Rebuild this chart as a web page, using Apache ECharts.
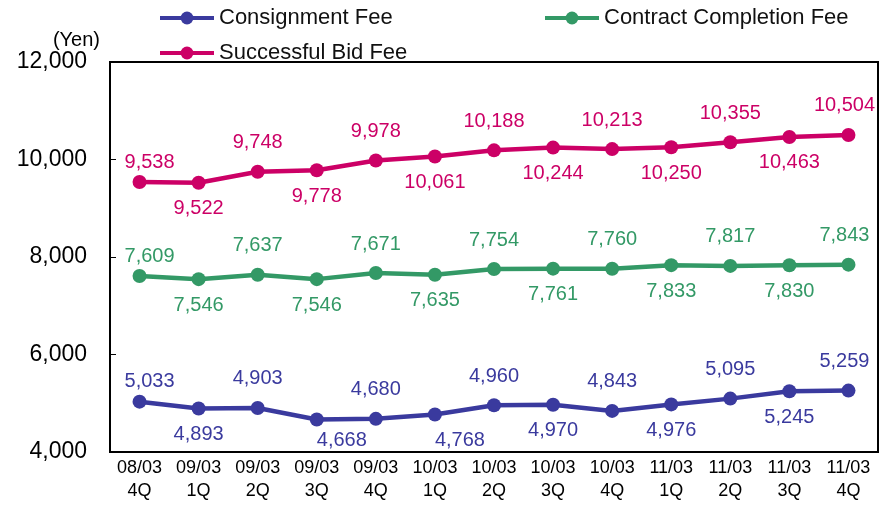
<!DOCTYPE html>
<html>
<head>
<meta charset="utf-8">
<script src="https://cdn.jsdelivr.net/npm/echarts@6/dist/echarts.min.js"></script>
<style>
  html, body { margin: 0; padding: 0; background: #fff; }
  #chart { width: 893px; height: 518px; }
</style>
</head>
<body>
<div id="chart"></div>
<script>
// Quarterly fees per vehicle (Yen)
const quarters = ['08/03\n4Q', '09/03\n1Q', '09/03\n2Q', '09/03\n3Q', '09/03\n4Q', '10/03\n1Q', '10/03\n2Q',
                  '10/03\n3Q', '10/03\n4Q', '11/03\n1Q', '11/03\n2Q', '11/03\n3Q', '11/03\n4Q'];
const consignmentFee = [5033, 4893, 4903, 4668, 4680, 4768, 4960, 4970, 4843, 4976, 5095, 5245, 5259];
const completionFee  = [7609, 7546, 7637, 7546, 7671, 7635, 7754, 7761, 7760, 7833, 7817, 7830, 7843];
const successBidFee  = [9538, 9522, 9748, 9778, 9978, 10061, 10188, 10244, 10213, 10250, 10355, 10463, 10504];
const yTicks = [4000, 6000, 8000, 10000, 12000];

const NARROW = 'Liberation Sans Narrow, Arial Narrow, Liberation Sans, Arial, sans-serif';
const SANS = 'Liberation Sans, Arial, sans-serif';
const BLUE = '#3a3a9e', GREEN = '#339966', PINK = '#cc0066';
const LABEL_FLOOR = 440; // lowest label centre, keeps labels off the x axis line

// Value labels alternate above / below the points; the end labels are nudged inwards
function makeSeries(name, values, color) {
  const last = values.length - 1;
  return {
    name: name,
    type: 'line',
    data: values.map((v, i) => ({
      value: v,
      label: {
        position: i % 2 === 0 ? 'top' : 'bottom',
        distance: i % 2 === 0 ? (i === 0 ? 3 : 12) : 9
      }
    })),
    symbol: 'circle',
    symbolSize: 14,
    lineStyle: { width: 4.5, color: color },
    itemStyle: { color: color },
    label: {
      show: true,
      color: color,
      fontFamily: SANS,
      fontSize: 20,
      formatter: p => p.value.toLocaleString('en-US')
    },
    labelLayout: p => {
      const r = p.labelRect;
      const out = {};
      if (p.dataIndex === 0) out.dx = 10;
      if (p.dataIndex === last) out.dx = -4;
      if (r.y + r.height / 2 > LABEL_FLOOR) {
        out.y = LABEL_FLOOR;
        out.verticalAlign = 'middle';
      }
      return out;
    },
    emphasis: { disabled: true },
    animation: false
  };
}

const chart = echarts.init(document.getElementById('chart'));
const legendBase = {
  itemWidth: 54, itemHeight: 16, itemGap: 4,
  lineStyle: { width: 4 },
  textStyle: { color: '#111', fontFamily: NARROW, fontSize: 22 }
};
chart.setOption({
  backgroundColor: '#fff',
  legend: [
    Object.assign({ left: 153, top: 2, data: ['Consignment Fee'] }, legendBase),
    Object.assign({ left: 538, top: 2, data: ['Contract Completion Fee'] }, legendBase),
    Object.assign({ left: 153, top: 37, data: ['Successful Bid Fee'] }, legendBase)
  ],
  grid: { left: 110, right: 15, top: 62, bottom: 66, show: true, borderColor: '#000', borderWidth: 2, backgroundColor: 'transparent' },
  xAxis: {
    type: 'category',
    data: quarters,
    boundaryGap: true,
    axisLine: { lineStyle: { color: '#000', width: 2 } },
    axisTick: { inside: true, length: 5, lineStyle: { color: '#000' } },
    axisLabel: { color: '#000', fontFamily: SANS, fontSize: 18, lineHeight: 23, margin: 5, interval: 0 }
  },
  yAxis: {
    type: 'value',
    min: yTicks[0],
    max: yTicks[yTicks.length - 1],
    interval: 2000,
    name: '(Yen)',
    nameLocation: 'end',
    nameGap: 12,
    nameTextStyle: { color: '#000', fontFamily: SANS, fontSize: 20, align: 'right', padding: [0, 10, 0, 0] },
    splitLine: { show: false },
    axisLine: { show: true, lineStyle: { color: '#000', width: 2 } },
    axisTick: { show: true, inside: true, length: 6, lineStyle: { color: '#000' } },
    axisLabel: { color: '#000', fontFamily: SANS, fontSize: 23, margin: 23, formatter: v => v.toLocaleString('en-US') }
  },
  series: [
    makeSeries('Consignment Fee', consignmentFee, BLUE),
    makeSeries('Contract Completion Fee', completionFee, GREEN),
    makeSeries('Successful Bid Fee', successBidFee, PINK)
  ]
});
</script>
</body>
</html>
